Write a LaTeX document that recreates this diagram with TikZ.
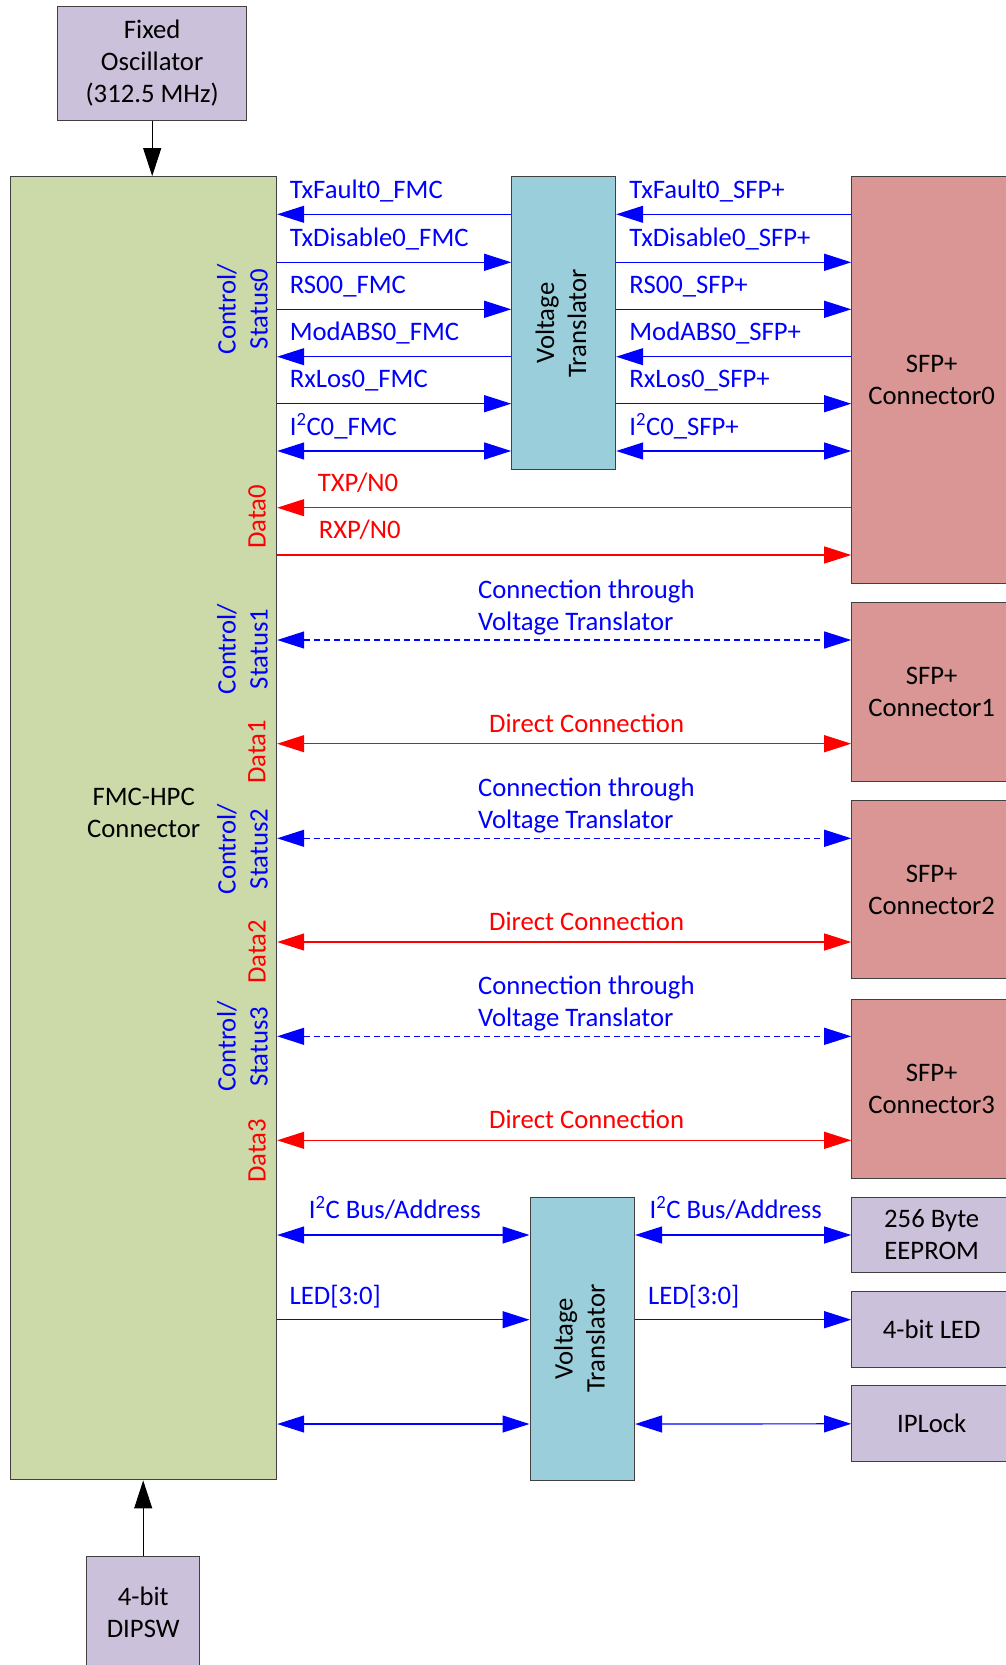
\documentclass[tikz,border=0pt]{standalone}
\usepackage{fontspec}
\setmainfont{Carlito}
\usepackage{xcolor}
\usetikzlibrary{arrows.meta}

\definecolor{fmcgreen}{RGB}{204,218,170}
\definecolor{vtblue}{RGB}{155,206,219}
\definecolor{sfpred}{RGB}{217,150,148}
\definecolor{partpurple}{RGB}{204,193,218}
\definecolor{edgegray}{RGB}{64,64,64}

\begin{document}
\begin{tikzpicture}[x=1pt, y=-1pt,
  every node/.style={font=\fontsize{26.7}{32}\selectfont},
  box/.style={draw=edgegray, line width=1pt, align=center, inner sep=0pt},
  sig/.style={blue, line width=1.2pt},
  dat/.style={red, line width=1.2pt},
  via/.style={blue, line width=1.2pt, dash pattern=on 6pt off 4pt},
  lbl/.style={anchor=base west, inner sep=0pt},
  side/.style={rotate=90, align=center, inner sep=0pt},
  >={Triangle[length=27pt, width=17pt]}]
  \useasboundingbox (0,0) rectangle (1005,1665);

  \node[box, fill=partpurple, minimum width=189pt, minimum height=113.3pt] (osc) at (152.2,63.4) {Fixed\\Oscillator\\(312.5 MHz)};
  \node[box, fill=fmcgreen, minimum width=266pt, minimum height=1303.3pt] (fmc) at (143.7,828.3) {};
  \node[align=center] (fmctext) at (143.7,813) {FMC-HPC\\Connector};
  \node[box, fill=vtblue, minimum width=104pt, minimum height=293.3pt] (vt0) at (563.7,323.3) {\rotatebox{90}{\begin{tabular}{@{}c@{}}Voltage\\Translator\end{tabular}}};
  \node[box, fill=sfpred, minimum width=160pt, minimum height=406.6pt] (sfp0) at (931.7,380) {SFP+\\Connector0};
  \node[box, fill=sfpred, minimum width=160pt, minimum height=178.7pt] (sfp1) at (931.7,691.7) {SFP+\\Connector1};
  \node[box, fill=sfpred, minimum width=160pt, minimum height=178.3pt] (sfp2) at (931.7,889.8) {SFP+\\Connector2};
  \node[box, fill=sfpred, minimum width=160pt, minimum height=179.3pt] (sfp3) at (931.7,1088.7) {SFP+\\Connector3};
  \node[box, fill=vtblue, minimum width=104.6pt, minimum height=283pt] (vt1) at (582.3,1338.5) {\rotatebox{90}{\begin{tabular}{@{}c@{}}Voltage\\Translator\end{tabular}}};
  \node[box, fill=partpurple, minimum width=160pt, minimum height=75.4pt] (eeprom) at (931.7,1235) {256 Byte\\EEPROM};
  \node[box, fill=partpurple, minimum width=160pt, minimum height=75.6pt] (led) at (931.7,1329.5) {4-bit LED};
  \node[box, fill=partpurple, minimum width=160pt, minimum height=75.7pt] (iplock) at (931.7,1423.8) {IPLock};
  \node[box, fill=partpurple, minimum width=113.5pt, minimum height=113pt] (dipsw) at (143.2,1612.5) {4-bit\\DIPSW};

  \draw[line width=1pt, -{Triangle[length=28pt, width=18pt]}] (osc.south) -- (osc.south |- fmc.north);
  \draw[line width=1pt, -{Triangle[length=28pt, width=18pt]}] (dipsw.north) -- (dipsw.north |- fmc.south);

  % control / status 0 through the translator
  \draw[sig, <-] (fmc.east |- 0,214.3) node[lbl, blue, xshift=12pt, yshift=15.5pt] {TxFault0\_FMC} -- (vt0.west |- 0,214.3);
  \draw[sig, <-] (vt0.east |- 0,214.3) node[lbl, blue, xshift=12.6pt, yshift=15.5pt] {TxFault0\_SFP+} -- (sfp0.west |- 0,214.3);
  \draw[sig, ->] (fmc.east |- 0,262.3) node[lbl, blue, xshift=12pt, yshift=16pt] {TxDisable0\_FMC} -- (vt0.west |- 0,262.3);
  \draw[sig, ->] (vt0.east |- 0,262.3) node[lbl, blue, xshift=12.6pt, yshift=16pt] {TxDisable0\_SFP+} -- (sfp0.west |- 0,262.3);
  \draw[sig, ->] (fmc.east |- 0,309.3) node[lbl, blue, xshift=12pt, yshift=16pt] {RS00\_FMC} -- (vt0.west |- 0,309.3);
  \draw[sig, ->] (vt0.east |- 0,309.3) node[lbl, blue, xshift=12.6pt, yshift=16pt] {RS00\_SFP+} -- (sfp0.west |- 0,309.3);
  \draw[sig, <-] (fmc.east |- 0,356.7) node[lbl, blue, xshift=12pt, yshift=16pt] {ModABS0\_FMC} -- (vt0.west |- 0,356.7);
  \draw[sig, <-] (vt0.east |- 0,356.7) node[lbl, blue, xshift=12.6pt, yshift=16pt] {ModABS0\_SFP+} -- (sfp0.west |- 0,356.7);
  \draw[sig, ->] (fmc.east |- 0,403.7) node[lbl, blue, xshift=12pt, yshift=16pt] {RxLos0\_FMC} -- (vt0.west |- 0,403.7);
  \draw[sig, ->] (vt0.east |- 0,403.7) node[lbl, blue, xshift=12.6pt, yshift=16pt] {RxLos0\_SFP+} -- (sfp0.west |- 0,403.7);
  \draw[sig, <->] (fmc.east |- 0,451) node[lbl, blue, xshift=12pt, yshift=16pt] {I\textsuperscript{2}C0\_FMC} -- (vt0.west |- 0,451);
  \draw[sig, <->] (vt0.east |- 0,451) node[lbl, blue, xshift=12.6pt, yshift=16pt] {I\textsuperscript{2}C0\_SFP+} -- (sfp0.west |- 0,451);

  % data 0
  \draw[dat, <-] (fmc.east |- 0,507.7) node[lbl, red, xshift=40pt, yshift=16pt] {TXP/N0} -- (sfp0.west |- 0,507.7);
  \draw[dat, ->] (fmc.east |- 0,555) node[lbl, red, xshift=41pt, yshift=17pt] {RXP/N0} -- (sfp0.west |- 0,555);

  % connectors 1 to 3
  \draw[via, <->] (fmc.east |- 0,640) node[lbl, blue, align=left, xshift=200.3pt, yshift=10pt] {Connection through\\Voltage Translator} -- (sfp1.west |- 0,640);
  \draw[dat, <->] (fmc.east |- 0,743.7) node[lbl, red, xshift=211.3pt, yshift=11.4pt] {Direct Connection} -- (sfp1.west |- 0,743.7);
  \draw[via, <->] (fmc.east |- 0,838.3) node[lbl, blue, align=left, xshift=200.3pt, yshift=10pt] {Connection through\\Voltage Translator} -- (sfp2.west |- 0,838.3);
  \draw[dat, <->] (fmc.east |- 0,942) node[lbl, red, xshift=211.3pt, yshift=11.4pt] {Direct Connection} -- (sfp2.west |- 0,942);
  \draw[via, <->] (fmc.east |- 0,1036.3) node[lbl, blue, align=left, xshift=200.3pt, yshift=10pt] {Connection through\\Voltage Translator} -- (sfp3.west |- 0,1036.3);
  \draw[dat, <->] (fmc.east |- 0,1140.3) node[lbl, red, xshift=211.3pt, yshift=11.4pt] {Direct Connection} -- (sfp3.west |- 0,1140.3);

  % I2C, LED and IPLock through the second translator
  \draw[sig, <->] (fmc.east |- 0,1235) node[lbl, blue, xshift=31pt, yshift=17pt] {I\textsuperscript{2}C Bus/Address} -- (vt1.west |- 0,1235);
  \draw[sig, <->] (vt1.east |- 0,1235) node[lbl, blue, xshift=14pt, yshift=17pt] {I\textsuperscript{2}C Bus/Address} -- (eeprom.west);
  \draw[sig, ->] (fmc.east |- 0,1319.7) node[lbl, blue, xshift=11.8pt, yshift=15.7pt] {LED[3:0]} -- (vt1.west |- 0,1319.7);
  \draw[sig, ->] (vt1.east |- 0,1319.7) node[lbl, blue, xshift=12.4pt, yshift=15.7pt] {LED[3:0]} -- (led.west |- 0,1319.7);
  \draw[sig, <->] (fmc.east |- 0,1424) -- (vt1.west |- 0,1424);
  \draw[sig, <->] (vt1.east |- 0,1424) -- (iplock.west);

  % side labels
  \node[side, blue] (cs0) at (242.5,309) {Control/\\Status0};
  \node[side, red] (d0) at (257,517) {Data0};
  \node[side, blue] (cs1) at (242.5,649) {Control/\\Status1};
  \node[side, red] (d1) at (257,752) {Data1};
  \node[side, blue] (cs2) at (242.5,849) {Control/\\Status2};
  \node[side, red] (d2) at (257,952) {Data2};
  \node[side, blue] (cs3) at (242.5,1046.7) {Control/\\Status3};
  \node[side, red] (d3) at (257,1151) {Data3};
\end{tikzpicture}
\end{document}
